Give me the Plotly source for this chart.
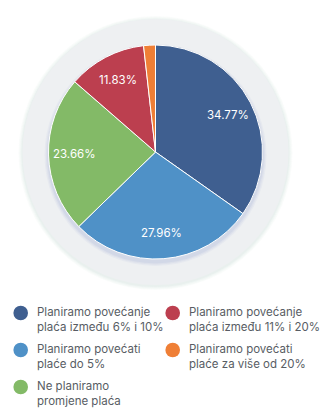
import math
import plotly.graph_objects as go

# Survey answers: planned salary changes
categories = [
    "Planiramo povećanje plaća između 6% i 10%",
    "Planiramo povećati plaće do 5%",
    "Ne planiramo promjene plaća",
    "Planiramo povećanje plaća između 11% i 20%",
    "Planiramo povećati plaće za više od 20%",
]
values = [34.77, 27.96, 23.66, 11.83, 1.78]
colors = ["#3f5f90", "#4f91c7", "#83ba67", "#bc3f4f", "#ef7f36"]

# Legend text, split over two lines
legend_lines = [
    ("Planiramo povećanje", "plaća između 6% i 10%"),
    ("Planiramo povećati", "plaće do 5%"),
    ("Ne planiramo", "promjene plaća"),
    ("Planiramo povećanje", "plaća između 11% i 20%"),
    ("Planiramo povećati", "plaće za više od 20%"),
]

W, H = 325, 416
CX, CY, R = 155.5, 152.0, 107.0      # pie centre / radius in px
BG_R = 133.0                          # light disc behind the pie


def px(x):
    return x / W


def py(y):
    return 1 - y / H


fig = go.Figure()

fig.add_trace(go.Pie(
    labels=categories,
    values=values,
    sort=False,
    direction="clockwise",
    rotation=0,
    marker=dict(colors=colors, line=dict(color="white", width=1)),
    textinfo="none",
    hoverinfo="label+percent",
    showlegend=False,
    domain=dict(x=[px(CX - R), px(CX + R)], y=[py(CY + R), py(CY - R)]),
))

shapes = []
# soft halo around the background disc
for i, a in enumerate([0.05, 0.05, 0.06, 0.07]):
    rr = BG_R + 4 - i
    shapes.append(dict(type="circle", xref="paper", yref="paper", layer="below",
                       x0=px(CX - rr), x1=px(CX + rr), y0=py(CY + rr + 1), y1=py(CY - rr + 1),
                       fillcolor=f"rgba(150,190,180,{a})", line=dict(width=0)))
shapes.append(dict(type="circle", xref="paper", yref="paper", layer="below",
                   x0=px(CX - BG_R), x1=px(CX + BG_R), y0=py(CY + BG_R), y1=py(CY - BG_R),
                   fillcolor="#eef0f2", line=dict(width=0)))
# faint shadow beneath the pie
for i, a in enumerate([0.05, 0.06, 0.08]):
    rr = R + 4 - i * 1.3
    shapes.append(dict(type="circle", xref="paper", yref="paper", layer="below",
                       x0=px(CX - rr), x1=px(CX + rr), y0=py(CY + 3 + rr), y1=py(CY + 3 - rr),
                       fillcolor=f"rgba(90,110,190,{a})", line=dict(width=0)))

annotations = []
# percentage labels at 3/4 of the radius, on each slice's mid angle
total = sum(values)
cum = 0.0
for v in values:
    mid = (cum + v / 2) / total * 2 * math.pi
    cum += v
    if v / total < 0.05:
        continue
    lr = 0.76 * R
    x = CX + lr * math.sin(mid)
    y = CY - lr * math.cos(mid)
    annotations.append(dict(x=px(x), y=py(y), xref="paper", yref="paper",
                            text=f"{v:.2f}%", showarrow=False,
                            font=dict(family="Inter", size=11.5, color="white"),
                            xanchor="center", yanchor="middle"))

# custom two-column legend with round markers
FS = 11.5
legend_pos = [(20.7, 313.0), (20.7, 350.0), (20.7, 387.0), (172.7, 313.0), (172.7, 350.0)]
for (mx, my), col, (l1, l2) in zip(legend_pos, colors, legend_lines):
    mr = 7.3
    shapes.append(dict(type="circle", xref="paper", yref="paper",
                       x0=px(mx - mr), x1=px(mx + mr), y0=py(my + mr), y1=py(my - mr),
                       fillcolor=col, line=dict(width=0)))
    annotations.append(dict(x=px(mx + 14.0), y=py(my + 0.6 * FS), xref="paper", yref="paper",
                            text=f"{l1}<br>{l2}", showarrow=False, xanchor="left", yanchor="middle",
                            align="left",
                            font=dict(family="Inter", size=FS, color="#585d64")))

fig.update_layout(
    width=W, height=H,
    margin=dict(l=0, r=0, t=0, b=0),
    paper_bgcolor="white",
    plot_bgcolor="white",
    shapes=shapes,
    annotations=annotations,
    showlegend=False,
)

fig.write_html("out.html")
